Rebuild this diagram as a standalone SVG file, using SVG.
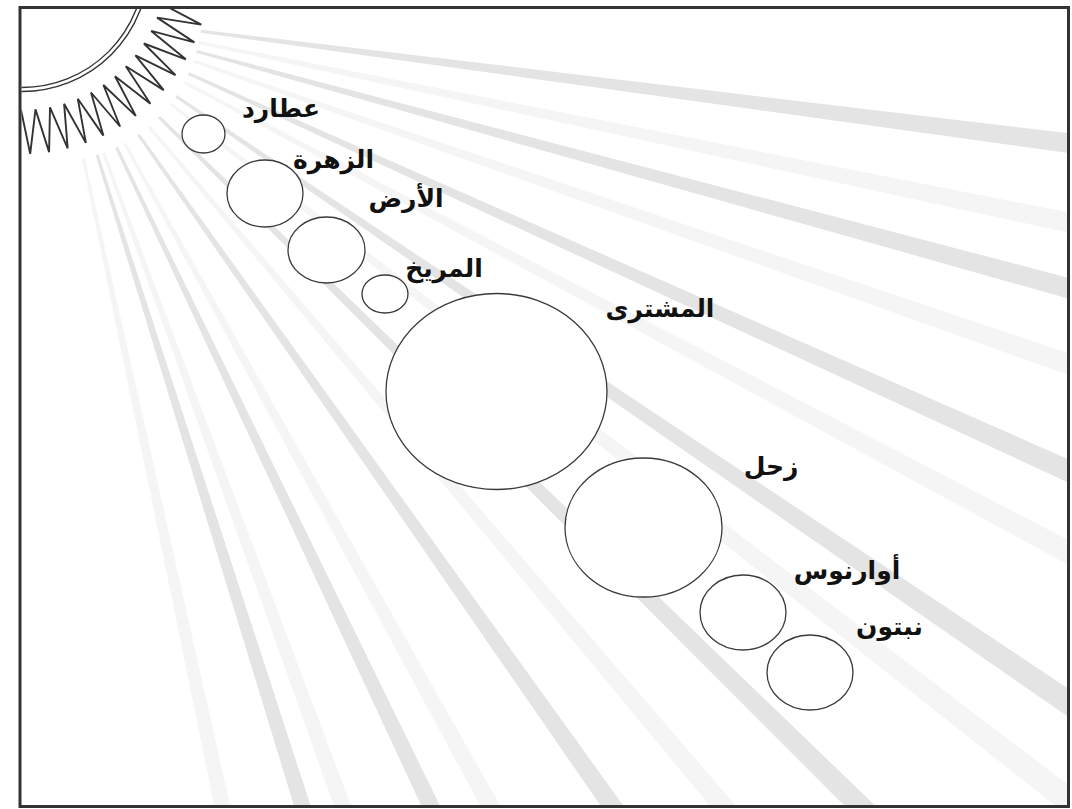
<svg xmlns="http://www.w3.org/2000/svg" xmlns:xlink="http://www.w3.org/1999/xlink" width="1072" height="809" viewBox="0 0 1072 809">
  <style>
    .ray-dark { fill: #e4e4e4; }
    .ray-faint { fill: #f5f5f5; }
    .line { fill: none; stroke: #333333; stroke-width: 1.4; }
    .teeth { fill: none; stroke: #333333; stroke-width: 1.9; stroke-linejoin: miter; }
    .planet { fill: #ffffff; stroke: #3a3a3a; stroke-width: 1.3; }
    .label { font-family: "DejaVu Sans", sans-serif; font-weight: bold; font-size: 25px; fill: #111111; text-anchor: middle; }
  </style>
  <defs>
    <clipPath id="inside">
      <rect x="21.5" y="9" width="1045.5" height="796"/>
    </clipPath>
    <!-- one sunbeam, a thin wedge widening away from the sun -->
    <polygon id="ray" points="150,-1.5 1500,-14.3 1500,14.3 150,1.5"/>
  </defs>

  <rect x="0" y="0" width="1072" height="809" fill="#ffffff"/>

  <g id="rays" clip-path="url(#inside)">
    <use xlink:href="#ray" class="ray-dark" transform="translate(52 12) rotate(7.35)"/>
    <use xlink:href="#ray" class="ray-faint" transform="translate(52 12) rotate(11.7)"/>
    <use xlink:href="#ray" class="ray-dark" transform="translate(52 12) rotate(15.2)"/>
    <use xlink:href="#ray" class="ray-faint" transform="translate(52 12) rotate(19.1)"/>
    <use xlink:href="#ray" class="ray-dark" transform="translate(52 12) rotate(24.3)"/>
    <use xlink:href="#ray" class="ray-faint" transform="translate(52 12) rotate(28.0)"/>
    <use xlink:href="#ray" class="ray-dark" transform="translate(52 12) rotate(34.2)"/>
    <use xlink:href="#ray" class="ray-faint" transform="translate(52 12) rotate(37.8)"/>
    <use xlink:href="#ray" class="ray-dark" transform="translate(52 12) rotate(44.5)"/>
    <use xlink:href="#ray" class="ray-faint" transform="translate(52 12) rotate(49.8)"/>
    <use xlink:href="#ray" class="ray-dark" transform="translate(52 12) rotate(54.8)"/>
    <use xlink:href="#ray" class="ray-faint" transform="translate(52 12) rotate(61.1)"/>
    <use xlink:href="#ray" class="ray-dark" transform="translate(52 12) rotate(64.5)"/>
    <use xlink:href="#ray" class="ray-faint" transform="translate(52 12) rotate(69.9)"/>
    <use xlink:href="#ray" class="ray-dark" transform="translate(52 12) rotate(72.5)"/>
    <use xlink:href="#ray" class="ray-faint" transform="translate(52 12) rotate(77.9)"/>
  </g>

  <g id="sun" clip-path="url(#inside)">
    <polygon fill="#ffffff" points="161.7,3.8 201.3,24.6 157.1,17.6 194.4,42.4 151.2,30.9 185.8,59.3 143.9,43.5 175.5,75.2 135.4,55.4 163.7,90.1 125.8,66.3 150.4,103.7 115.0,76.2 135.8,115.9 103.4,85.0 120.1,126.5 91.0,92.5 103.4,135.6 77.8,98.8 85.9,142.9 64.1,103.8 67.7,148.4 50.0,107.3 49.1,152.1 35.5,109.4 30.2,153.8 21.0,110.0 10,110 10,0 161.7,0"/>
    <polyline class="teeth" points="161.7,3.8 201.3,24.6 157.1,17.6 194.4,42.4 151.2,30.9 185.8,59.3 143.9,43.5 175.5,75.2 135.4,55.4 163.7,90.1 125.8,66.3 150.4,103.7 115.0,76.2 135.8,115.9 103.4,85.0 120.1,126.5 91.0,92.5 103.4,135.6 77.8,98.8 85.9,142.9 64.1,103.8 67.7,148.4 50.0,107.3 49.1,152.1 35.5,109.4 30.2,153.8 21.0,110.0"/>
    <circle class="line" cx="22" cy="-35" r="122.5"/>
    <circle class="line" cx="22" cy="-35" r="126.5"/>
  </g>

  <g id="mercury">
    <ellipse class="planet" cx="203.5" cy="134" rx="21.5" ry="19"/>
    <text class="label" x="281" y="117">عطارد</text>
  </g>
  <g id="venus">
    <ellipse class="planet" cx="265" cy="193.5" rx="38" ry="33.5"/>
    <text class="label" x="333.5" y="168">الزهرة</text>
  </g>
  <g id="earth">
    <ellipse class="planet" cx="326.5" cy="250" rx="38.5" ry="33"/>
    <text class="label" x="406" y="207">الأرض</text>
  </g>
  <g id="mars">
    <ellipse class="planet" cx="385" cy="294" rx="23" ry="19"/>
    <text class="label" x="444" y="277">المريخ</text>
  </g>
  <g id="jupiter">
    <ellipse class="planet" cx="496.5" cy="391.5" rx="110.5" ry="98"/>
    <text class="label" x="660" y="317">المشترى</text>
  </g>
  <g id="saturn">
    <ellipse class="planet" cx="643.5" cy="527.5" rx="78.5" ry="69.5"/>
    <text class="label" x="771" y="475">زحل</text>
  </g>
  <g id="uranus">
    <ellipse class="planet" cx="743" cy="612.5" rx="43" ry="37.5"/>
    <text class="label" x="847" y="579">أوارنوس</text>
  </g>
  <g id="neptune">
    <ellipse class="planet" cx="810" cy="672.5" rx="43" ry="37.5"/>
    <text class="label" x="889.5" y="635">نبتون</text>
  </g>

  <rect id="frame" x="20" y="7.5" width="1048.5" height="799" fill="none" stroke="#333333" stroke-width="3"/>
</svg>
